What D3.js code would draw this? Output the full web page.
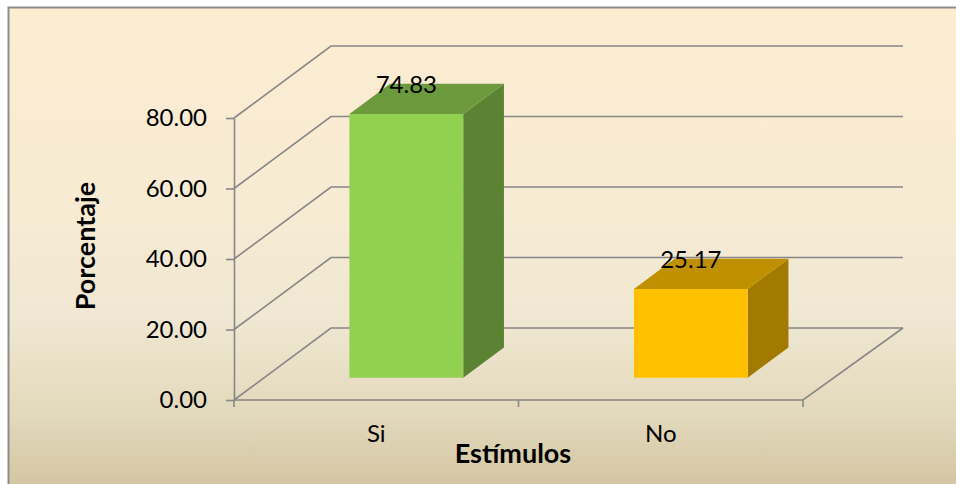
<!DOCTYPE html>
<html><head><meta charset="utf-8">
<script src="https://cdn.jsdelivr.net/npm/d3@7"></script>
<style>html,body{margin:0;padding:0;background:#fff;}svg{display:block;}</style>
</head><body>
<svg id="chart" width="956" height="484"></svg>
<script>
const categories = ["Si", "No"];
const values = [74.83, 25.17];
const yTicks = [0, 20, 40, 60, 80];
const xTitle = "Estímulos";
const yTitle = "Porcentaje";
const frontColors = ["#92D050", "#FFC000"];
const topColors = ["#6C9A3C", "#BF9000"];
const sideColors = ["#5C8334", "#A27A00"];

const W = 956, H = 484;
const svg = d3.select("#chart");
const FONT = "Lato, 'Open Sans', sans-serif";
const DX = 97, DY = 72;           // depth offset of the 3D box
const z0 = 0.31, z1 = 0.73;       // bar depth range (fraction)

const defs = svg.append("defs");
const g1 = defs.append("linearGradient").attr("id","bg").attr("x1",0).attr("y1",0).attr("x2",0).attr("y2",1);
[[0,"#FCEDD1"],[0.4,"#F7EBD3"],[0.62,"#F0E8D3"],[0.82,"#E3D9BC"],[1,"#D0C29E"]].forEach(s=>g1.append("stop").attr("offset",s[0]).attr("stop-color",s[1]));

svg.append("rect").attr("x",8.5).attr("y",7.5).attr("width",W+10).attr("height",H+10)
  .attr("fill","url(#bg)").attr("stroke","#8C8C8C").attr("stroke-width",2);

const x = d3.scaleBand().domain(categories).range([234, 803]).paddingInner(0.6).paddingOuter(0.3);
const xEdge = d3.scalePoint().domain(d3.range(categories.length + 1)).range([234, 803]);
const y = d3.scaleLinear().domain([0, 80]).range([400, 118]);
const P = (px, v, z) => [px + z * DX, y(v) - z * DY];

const grid = svg.append("g").attr("stroke","#878787").attr("stroke-width",1.6).attr("fill","none");
yTicks.forEach(t => {
  const a = P(234, t, 0), b = P(234, t, 1), c = P(803 + 3, t, 1);
  grid.append("path").attr("d", d3.line()([a, b, c]));
});
grid.append("path").attr("d", d3.line()([P(234,0,0), P(803,0,0), P(806,0,1)]));

const yAxis = d3.axisLeft(y).tickValues(yTicks).tickFormat(d3.format(".2f")).tickSize(8).tickSizeOuter(0).tickPadding(19);
const ya = svg.append("g").attr("transform","translate(234,0)").call(yAxis);
ya.select(".domain").attr("stroke","#878787").attr("stroke-width",1.6);
ya.selectAll(".tick line").attr("stroke","#878787").attr("stroke-width",1.6);
ya.selectAll(".tick text").attr("font-family",FONT).attr("font-size",24).attr("fill","#000");

svg.append("g").selectAll("line").data(xEdge.domain()).join("line")
  .attr("x1", d => xEdge(d)).attr("x2", d => xEdge(d)).attr("y1", 400).attr("y2", 407)
  .attr("stroke","#878787").attr("stroke-width",1.6);

const bars = svg.append("g");
categories.forEach((c, i) => {
  const v = values[i];
  const xl = x(c), xr = x(c) + x.bandwidth();
  const poly = pts => bars.append("polygon").attr("points", pts.map(p => p.join(",")).join(" "));
  poly([P(xr,0,z0), P(xr,0,z1), P(xr,v,z1), P(xr,v,z0)]).attr("fill", sideColors[i]);
  poly([P(xl,v,z0), P(xl,v,z1), P(xr,v,z1), P(xr,v,z0)]).attr("fill", topColors[i]);
  poly([P(xl,0,z0), P(xr,0,z0), P(xr,v,z0), P(xl,v,z0)]).attr("fill", frontColors[i]);
  const tp = P((xl + xr) / 2, v, z0);
  svg.append("text").attr("x", tp[0]).attr("y", tp[1] - 21).attr("text-anchor","middle")
    .attr("font-family",FONT).attr("font-size",24).attr("fill","#000").text(v.toFixed(2));
});

svg.append("g").selectAll("text").data(categories).join("text")
  .attr("x", d => x(d) + x.bandwidth() / 2).attr("y", 442).attr("text-anchor","middle")
  .attr("font-family",FONT).attr("font-size",24).attr("fill","#000").text(d => d);

svg.append("text").attr("x", 513).attr("y", 463).attr("text-anchor","middle")
  .attr("font-family",FONT).attr("font-weight","bold").attr("font-size",27).attr("fill","#000").text(xTitle);
svg.append("text").attr("transform","translate(95,246) rotate(-90)").attr("text-anchor","middle")
  .attr("font-family",FONT).attr("font-weight","bold").attr("font-size",27).attr("fill","#000").text(yTitle);
</script>
</body></html>
